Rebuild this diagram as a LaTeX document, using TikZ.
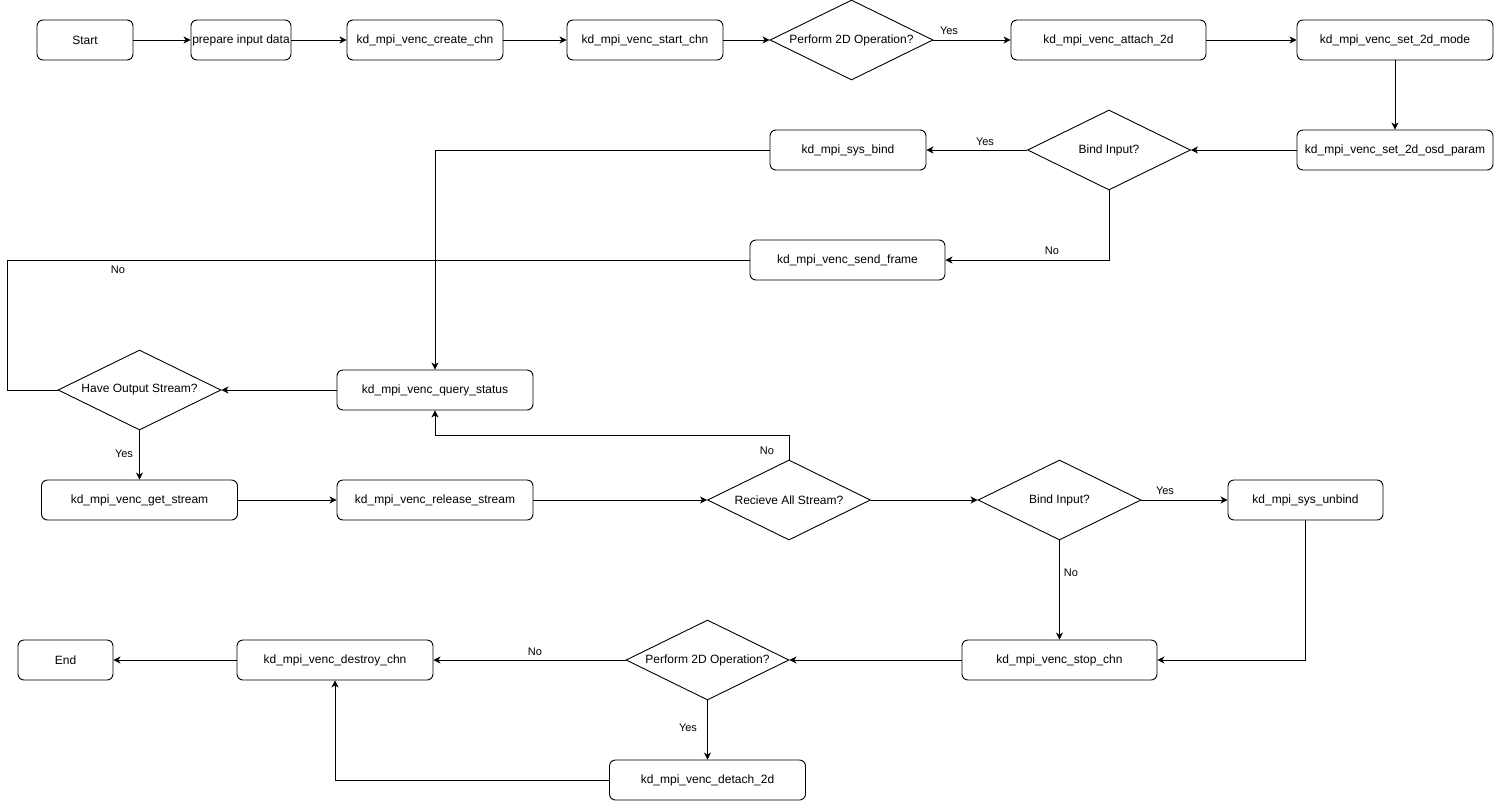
\documentclass[tikz,border=0pt]{standalone}
\usepackage{fontspec}
\setmainfont{Liberation Sans}
\usetikzlibrary{shapes.geometric,arrows.meta}
\begin{document}
\begin{tikzpicture}[x=1pt,y=-1pt,
  proc/.style={draw,rounded corners=6pt,minimum height=40pt,inner sep=0pt,line width=0.9pt,font=\fontsize{12}{14}\selectfont},
  dec/.style={draw,diamond,minimum width=163pt,minimum height=80pt,inner sep=0pt,line width=0.9pt},
  dtext/.style={font=\fontsize{12}{14}\selectfont,inner sep=0pt},
  lab/.style={font=\fontsize{11}{13}\selectfont,inner sep=0pt},
  arr/.style={line width=0.9pt,-{Stealth[length=7pt,width=7pt,inset=2pt]}},
  ln/.style={line width=0.9pt}]
\useasboundingbox (0,0) rectangle (1494,801);
% row 1
\node[proc,minimum width=96pt] (start) at (85,40) {Start};
\node[proc,minimum width=100pt] (prep) at (241,40) {prepare input data};
\node[proc,minimum width=156pt] (create) at (425,40) {kd\_mpi\_venc\_create\_chn};
\node[proc,minimum width=156pt] (startchn) at (645,40) {kd\_mpi\_venc\_start\_chn};
\node[dec] (d1) at (851.5,40) {};
\node[dtext] (d1t) at (d1) {Perform 2D Operation?};
\node[proc,minimum width=195pt] (attach) at (1108.5,40) {kd\_mpi\_venc\_attach\_2d};
\node[proc,minimum width=196pt] (mode) at (1395,40) {kd\_mpi\_venc\_set\_2d\_mode};
% row 2
\node[proc,minimum width=196pt] (osd) at (1395,150) {kd\_mpi\_venc\_set\_2d\_osd\_param};
\node[dec] (bind1) at (1109,150) {};
\node[dtext] (bind1t) at (bind1) {Bind Input?};
\node[proc,minimum width=156pt] (sysbind) at (848,150) {kd\_mpi\_sys\_bind};
% row 3
\node[proc,minimum width=195pt] (send) at (847.5,260) {kd\_mpi\_venc\_send\_frame};
% row 4
\node[proc,minimum width=196pt] (query) at (435,390) {kd\_mpi\_venc\_query\_status};
\node[dec] (have) at (139.5,390) {};
\node[dtext] (havet) at (have) {Have Output Stream?};
% row 5
\node[proc,minimum width=196pt] (get) at (139.5,500) {kd\_mpi\_venc\_get\_stream};
\node[proc,minimum width=196pt] (release) at (435,500) {kd\_mpi\_venc\_release\_stream};
\node[dec] (recv) at (789,500) {};
\node[dtext] (recvt) at (recv) {Recieve All Stream?};
\node[dec] (bind2) at (1059.5,500) {};
\node[dtext] (bind2t) at (bind2) {Bind Input?};
\node[proc,minimum width=155pt] (unbind) at (1305.5,500) {kd\_mpi\_sys\_unbind};
% row 6
\node[proc,minimum width=195pt] (stop) at (1059.5,660) {kd\_mpi\_venc\_stop\_chn};
\node[dec] (d2) at (707.5,660) {};
\node[dtext] (d2t) at (d2) {Perform 2D Operation?};
\node[proc,minimum width=196pt] (destroy) at (335,660) {kd\_mpi\_venc\_destroy\_chn};
\node[proc,minimum width=95pt] (end) at (65.5,660) {End};
% row 7
\node[proc,minimum width=196pt] (detach) at (707.5,780) {kd\_mpi\_venc\_detach\_2d};
% helper coordinates
\coordinate (lp) at (7,260);
\coordinate (rn) at (789,435);
% connectors
\draw[arr] (start) -- (prep);
\draw[arr] (prep) -- (create);
\draw[arr] (create) -- (startchn);
\draw[arr] (startchn) -- (d1);
\draw[arr] (d1) -- (attach);
\draw[arr] (attach) -- (mode);
\draw[arr] (mode) -- (osd);
\draw[arr] (osd) -- (bind1);
\draw[arr] (bind1) -- (sysbind);
\draw[arr] (bind1.south) |- (send.east);
\draw[arr] (sysbind.west) -| (query.north);
\draw[ln] (send.west) -- (lp) |- (have.west);
\draw[arr] (query) -- (have);
\draw[arr] (have) -- (get);
\draw[arr] (get) -- (release);
\draw[arr] (release) -- (recv);
\draw[arr] (recv.north) -- (rn) -| (query.south);
\draw[arr] (recv) -- (bind2);
\draw[arr] (bind2) -- (unbind);
\draw[arr] (bind2) -- (stop);
\draw[arr] (unbind.south) |- (stop.east);
\draw[arr] (stop) -- (d2);
\draw[arr] (d2) -- (destroy);
\draw[arr] (d2) -- (detach);
\draw[arr] (detach.west) -| (destroy.south);
\draw[arr] (destroy) -- (end);
% labels
\node[lab] (l1) at (949,31) {Yes};
\node[lab] (l2) at (985,142) {Yes};
\node[lab] (l3) at (1052,251) {No};
\node[lab] (l4) at (118,270) {No};
\node[lab] (l5) at (124,454) {Yes};
\node[lab] (l6) at (767,451) {No};
\node[lab] (l7) at (1165,491) {Yes};
\node[lab] (l8) at (1071,573) {No};
\node[lab] (l9) at (535,652) {No};
\node[lab] (l10) at (688,728) {Yes};
\end{tikzpicture}
\end{document}
